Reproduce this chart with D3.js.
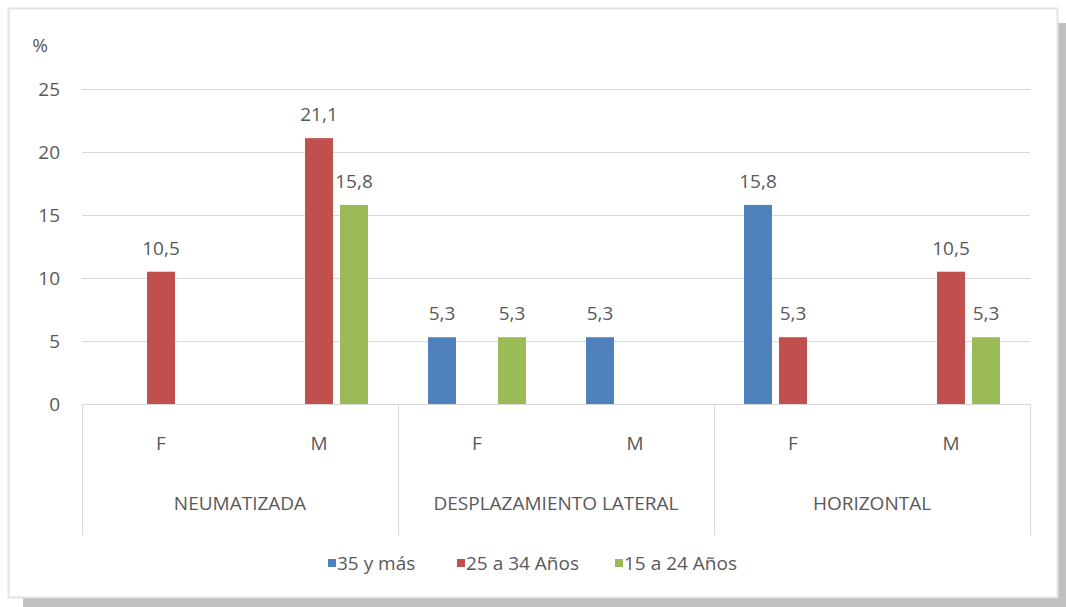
<!DOCTYPE html>
<html><head><meta charset="utf-8">
<script src="https://cdn.jsdelivr.net/npm/d3@7"></script>
<style>body{margin:0;background:#fff}svg{display:block}text{font-family:"Open Sans",sans-serif;fill:#595959}</style>
</head><body><svg id="c" width="1066" height="607"></svg>
<script>
const groups = ["NEUMATIZADA", "DESPLAZAMIENTO LATERAL", "HORIZONTAL"];
const subs = ["F", "M"];
const seriesNames = ["35 y más", "25 a 34 Años", "15 a 24 Años"];
const seriesColors = ["#4F81BD", "#C0504D", "#9BBB59"];
// values in order: NEUM F, NEUM M, DESP F, DESP M, HORIZ F, HORIZ M
const s35 = [null, null, 5.3, 5.3, 15.8, null];
const s25 = [10.5, 21.1, null, null, 5.3, 10.5];
const s15 = [null, 15.8, 5.3, null, null, 5.3];
const yTicks = [0, 5, 10, 15, 20, 25];
const yUnit = "%";

const seriesVals = [s35, s25, s15];
const FS = 19;
const svg = d3.select("#c");
// frame + shadow
svg.append("rect").attr("x", 23).attr("y", 598).attr("width", 1043).attr("height", 9).attr("fill", "#c0c0c0");
svg.append("rect").attr("x", 1058).attr("y", 23).attr("width", 8).attr("height", 584).attr("fill", "#c0c0c0");
svg.append("rect").attr("x", 8.5).attr("y", 8.5).attr("width", 1049).attr("height", 589).attr("fill", "#fff").attr("stroke", "#e3e3e3").attr("stroke-width", 2);

const x0 = 82, x1 = 1030, yTop = 89, yBot = 404;
const y = d3.scaleLinear().domain([0, 25]).range([yBot, yTop]);
const gx = d3.scaleBand().domain(groups).range([x0, x1]);
const sx = d3.scaleBand().domain(subs).range([0, gx.bandwidth()]);
const bx = d3.scaleBand().domain(seriesNames).range([0, sx.bandwidth()]).paddingInner(0.2).paddingOuter(0.857);

// gridlines
const yAxis = d3.axisLeft(y).tickValues(yTicks).tickSize(-(x1 - x0)).tickPadding(22).tickFormat(d3.format("d"));
const ya = svg.append("g").attr("transform", `translate(${x0},0)`).call(yAxis);
ya.select(".domain").remove();
ya.selectAll(".tick line").attr("stroke", "#d9d9d9").attr("stroke-width", 1);
ya.selectAll(".tick text").attr("font-size", FS).attr("font-family", "'Open Sans',sans-serif").attr("fill", "#595959");
svg.append("text").attr("x", 40).attr("y", 52).attr("text-anchor", "middle").attr("font-size", FS).text(yUnit);

// category separators
const seps = groups.map(g => gx(g)).concat([x1]);
svg.selectAll(".sep").data(seps).enter().append("line")
  .attr("x1", d => d + 0.5).attr("x2", d => d + 0.5).attr("y1", yBot).attr("y2", 535)
  .attr("stroke", "#d9d9d9");

// bars
const cells = [];
groups.forEach((g, gi) => subs.forEach((s, si) => {
  const idx = gi * subs.length + si;
  seriesNames.forEach((n, ni) => {
    const v = seriesVals[ni][idx];
    if (v != null) cells.push({g, s, n, v, c: seriesColors[ni]});
  });
}));
const bars = svg.append("g");
bars.selectAll("rect").data(cells).enter().append("rect")
  .attr("x", d => gx(d.g) + sx(d.s) + bx(d.n))
  .attr("width", bx.bandwidth())
  .attr("y", d => y(d.v)).attr("height", d => y(0) - y(d.v))
  .attr("fill", d => d.c);
bars.selectAll("text").data(cells).enter().append("text")
  .attr("x", d => gx(d.g) + sx(d.s) + bx(d.n) + bx.bandwidth() / 2)
  .attr("y", d => y(d.v) - 17)
  .attr("text-anchor", "middle").attr("font-size", FS)
  .text(d => d3.format(".1f")(d.v).replace(".", ","));

// sub labels
groups.forEach(g => subs.forEach(s => {
  svg.append("text").attr("x", gx(g) + sx(s) + sx.bandwidth() / 2).attr("y", 450)
    .attr("text-anchor", "middle").attr("font-size", FS).text(s);
}));
svg.selectAll(".gl").data(groups).enter().append("text")
  .attr("x", d => gx(d) + gx.bandwidth() / 2).attr("y", 510)
  .attr("text-anchor", "middle").attr("font-size", FS).text(d => d);

// legend
const legX = [328, 457, 615];
const lg = svg.append("g");
seriesNames.forEach((n, i) => {
  lg.append("rect").attr("x", legX[i]).attr("y", 559).attr("width", 8).attr("height", 8).attr("fill", seriesColors[i]);
  lg.append("text").attr("x", legX[i] + 9).attr("y", 570).attr("font-size", FS).text(n);
});
</script></body></html>
